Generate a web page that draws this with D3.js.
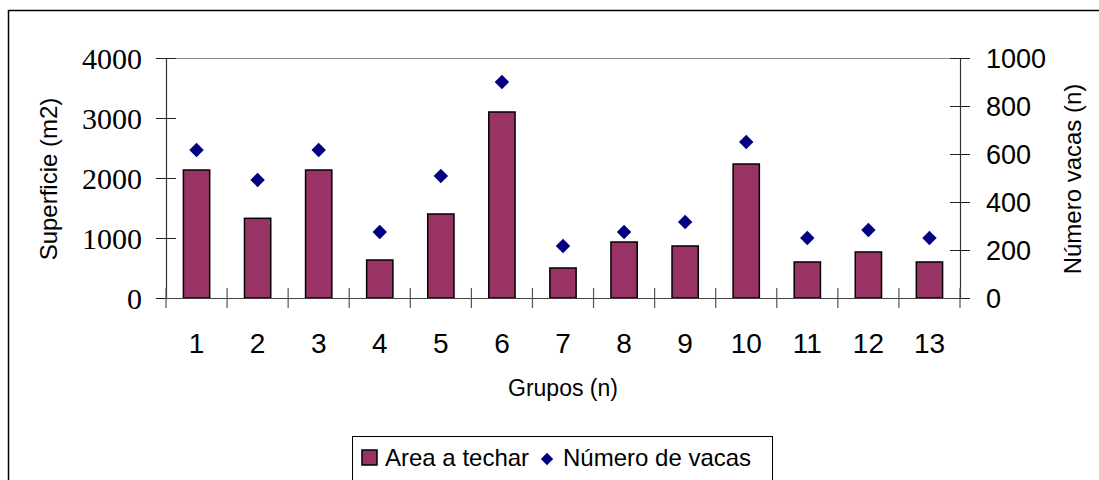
<!DOCTYPE html>
<html>
<head>
<meta charset="utf-8">
<script src="https://cdn.jsdelivr.net/npm/d3@7"></script>
<style>
  html, body { margin: 0; padding: 0; background: #fff; }
  svg { display: block; }
</style>
</head>
<body>
<svg id="chart" width="1099" height="480"></svg>
<script>
const categories = ["1","2","3","4","5","6","7","8","9","10","11","12","13"];
const areaValues = [2133, 1328, 2133, 633, 1400, 3100, 500, 933, 867, 2233, 600, 767, 600];
const vacasValues = [617, 492, 617, 275, 508, 900, 217, 275, 317, 650, 250, 283, 250];
const leftTicks = [0, 1000, 2000, 3000, 4000];
const rightTicks = [0, 200, 400, 600, 800, 1000];
const seriesNames = ["Area a techar", "Número de vacas"];
const axisTitles = { left: "Superficie (m2)", right: "Número vacas (n)", x: "Grupos (n)" };

const svg = d3.select("#chart");
const L = 166, R = 960, T = 58, B = 298;
const barColor = "#993366", dotColor = "#000080";
const fmt = d3.format("d");

// outer border
svg.append("rect").attr("x", 8.5).attr("y", 10.5).attr("width", 1200).attr("height", 600)
  .attr("fill", "none").attr("stroke", "#000").attr("stroke-width", 1.5);

const x = d3.scaleBand().domain(categories).range([L, R]).paddingInner(0).paddingOuter(0);
const yL = d3.scaleLinear().domain([0, 4000]).range([B, T]);
const yR = d3.scaleLinear().domain([0, 1000]).range([B, T]);

// top border of plot area
svg.append("line").attr("x1", L).attr("x2", R).attr("y1", T + 0.5).attr("y2", T + 0.5)
  .attr("stroke", "#888").attr("stroke-width", 1.2);

// bars
const bw = x.bandwidth() * 0.43;
svg.append("g").selectAll("rect").data(categories).join("rect")
  .attr("x", (c) => x(c) + (x.bandwidth() - bw) / 2)
  .attr("y", (c, i) => yL(areaValues[i]))
  .attr("width", bw)
  .attr("height", (c, i) => B - yL(areaValues[i]))
  .attr("fill", barColor).attr("stroke", "#000").attr("stroke-width", 1.5);

// left axis
const gL = svg.append("g").attr("transform", `translate(${L},0)`)
  .call(d3.axisLeft(yL).tickValues(leftTicks).tickFormat(fmt).tickSize(10).tickSizeOuter(0).tickPadding(14));
gL.select(".domain").attr("stroke", "#333").attr("stroke-width", 1.2);
gL.selectAll(".tick line").attr("stroke", "#222").attr("x2", 10).attr("x1", -10);
gL.selectAll(".tick text").attr("font-family", "'Liberation Serif', 'Times New Roman', serif")
  .attr("font-size", 30).attr("fill", "#000").attr("x", -24).attr("dy", "0.34em");

// right axis
const gR = svg.append("g").attr("transform", `translate(${R},0)`)
  .call(d3.axisRight(yR).tickValues(rightTicks).tickFormat(fmt).tickSize(10).tickSizeOuter(0).tickPadding(14));
gR.select(".domain").attr("stroke", "#333").attr("stroke-width", 1.2);
gR.selectAll(".tick line").attr("stroke", "#222").attr("x1", -10).attr("x2", 10);
gR.selectAll(".tick text").attr("font-family", "'Liberation Sans', Arial, sans-serif")
  .attr("font-size", 27).attr("fill", "#000").attr("x", 26).attr("dy", "0.36em");

// x axis
const gX = svg.append("g").attr("transform", `translate(0,${B})`)
  .call(d3.axisBottom(x).tickSize(0).tickSizeOuter(0).tickPadding(0));
gX.select(".domain").attr("stroke", "#444").attr("stroke-width", 1.2);
gX.selectAll(".tick text").attr("font-family", "'Liberation Sans', Arial, sans-serif")
  .attr("font-size", 28).attr("fill", "#000").attr("y", 55).attr("dy", 0);
// category boundary ticks
const bounds = categories.map((c) => x(c)).concat([R]);
gX.append("g").selectAll("line").data(bounds).join("line")
  .attr("x1", (d) => d).attr("x2", (d) => d).attr("y1", -10).attr("y2", 10)
  .attr("stroke", "#555").attr("stroke-width", 1.2);

// diamonds
const diamond = d3.symbol(d3.symbolSquare, 104);
svg.append("g").selectAll("path").data(categories).join("path")
  .attr("d", diamond)
  .attr("transform", (c, i) => `translate(${x(c) + x.bandwidth() / 2},${yR(vacasValues[i])}) rotate(45)`)
  .attr("fill", dotColor);

// axis titles
svg.append("text").attr("transform", `translate(57,${(T + B) / 2 + 1}) rotate(-90)`)
  .attr("text-anchor", "middle").attr("font-family", "'Liberation Sans', Arial, sans-serif")
  .attr("font-size", 24).text(axisTitles.left);
svg.append("text").attr("transform", `translate(1081,${(T + B) / 2 + 1}) rotate(-90)`)
  .attr("text-anchor", "middle").attr("font-family", "'Liberation Sans', Arial, sans-serif")
  .attr("font-size", 24).text(axisTitles.right);
svg.append("text").attr("x", (L + R) / 2).attr("y", 396)
  .attr("text-anchor", "middle").attr("font-family", "'Liberation Sans', Arial, sans-serif")
  .attr("font-size", 23).text(axisTitles.x);

// legend
const lg = svg.append("g");
lg.append("rect").attr("x", 352.5).attr("y", 436.5).attr("width", 420).attr("height", 60)
  .attr("fill", "#fff").attr("stroke", "#000").attr("stroke-width", 1);
lg.append("rect").attr("x", 362).attr("y", 450).attr("width", 15).attr("height", 15)
  .attr("fill", barColor).attr("stroke", "#000").attr("stroke-width", 1.5);
lg.append("text").attr("x", 385).attr("y", 466).attr("font-family", "'Liberation Sans', Arial, sans-serif")
  .attr("font-size", 24).text(seriesNames[0]);
lg.append("path").attr("d", d3.symbol(d3.symbolSquare, 76))
  .attr("transform", "translate(547,459) rotate(45)").attr("fill", dotColor);
lg.append("text").attr("x", 563).attr("y", 466).attr("font-family", "'Liberation Sans', Arial, sans-serif")
  .attr("font-size", 24).text(seriesNames[1]);
</script>
</body>
</html>
